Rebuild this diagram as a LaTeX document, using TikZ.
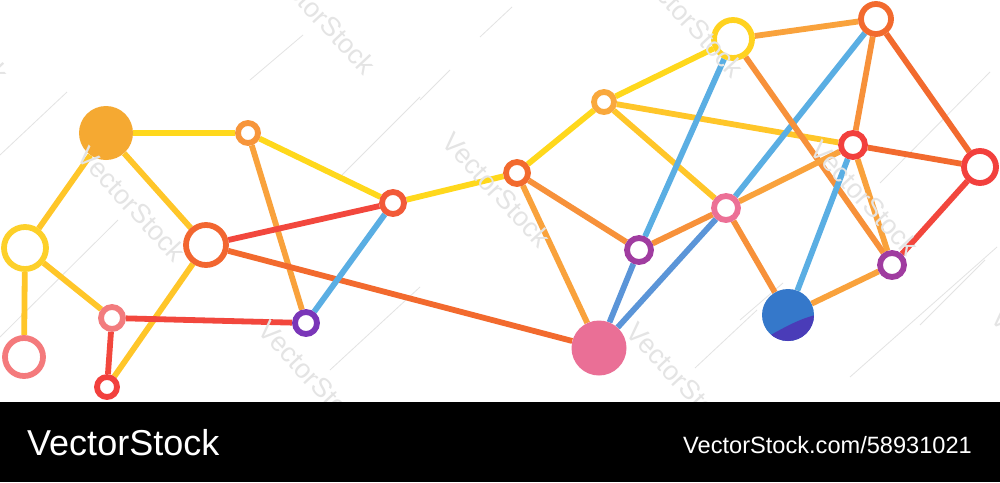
\documentclass[tikz,border=0pt]{standalone}
\usepackage{fontspec}
\newfontfamily\bandfont{Liberation Sans}
\newfontfamily\wmfont{Liberation Sans}
\usetikzlibrary{backgrounds,calc}
\pgfdeclarelayer{base}
\pgfsetlayers{base,background,main}
\definecolor{cA}{HTML}{F5A932}
\definecolor{cB}{HTML}{F7953A}
\definecolor{cC}{HTML}{F25A38}
\definecolor{cD}{HTML}{FDD02A}
\definecolor{cE}{HTML}{F26630}
\definecolor{cF}{HTML}{F27C7E}
\definecolor{cG}{HTML}{7A36B8}
\definecolor{cH}{HTML}{F47A7C}
\definecolor{cI}{HTML}{F2403D}
\definecolor{cJ}{HTML}{F26A2E}
\definecolor{cK}{HTML}{F9A83C}
\definecolor{cL}{HTML}{FFD21F}
\definecolor{cM}{HTML}{F26A2E}
\definecolor{cN}{HTML}{F2403D}
\definecolor{cO}{HTML}{F2403D}
\definecolor{cP}{HTML}{EC7096}
\definecolor{cQ}{HTML}{A03CA0}
\definecolor{cR}{HTML}{A03CA0}
\definecolor{cS}{HTML}{3578CA}
\definecolor{cS2}{HTML}{4A3CB8}
\definecolor{cT}{HTML}{EA6F96}
\definecolor{eGold}{HTML}{FFC629}
\definecolor{eYel}{HTML}{FFD81C}
\definecolor{eLor}{HTML}{F9A23C}
\definecolor{eOr}{HTML}{F7913A}
\definecolor{eRor}{HTML}{F26A2E}
\definecolor{eRed}{HTML}{F2473D}
\definecolor{eBlue}{HTML}{5AAEE3}
\definecolor{eBlue2}{HTML}{5B95D8}
\definecolor{wmgray}{HTML}{E4E4E4}
\begin{document}
\begin{tikzpicture}[x=1pt,y=-1pt,
  ring/.style={circle,draw=#1,fill=white,line width=5.8pt,inner sep=0pt},
  dot/.style={circle,fill=#1,draw=none,inner sep=0pt},
  edge/.style={draw=#1,line width=5.8pt},
  wm/.style={font={\wmfont\fontsize{27}{27}\selectfont},inner sep=0pt,rotate=-47,text=wmgray},
  faint/.style={draw=black!11,line width=0.8pt},
  bandtext/.style={anchor=base west,inner sep=0pt,text=white}]
\useasboundingbox (0,0) rectangle (1000,482);
\begin{pgfonlayer}{base}
\fill[white] (0,0) rectangle (1000,482);
% faint diagonal lines
\draw[faint] (0,155) -- (67,92);
\draw[faint] (0,337) -- (118,220);
\draw[faint] (330,370) -- (420,287);
\draw[faint] (340,177) -- (420,97);
\draw[faint] (250,80) -- (303,35);
\draw[faint] (420,100) -- (450,70);
\draw[faint] (695,368) -- (757,310);
\draw[faint] (920,325) -- (985,260);
\draw[faint] (740,320) -- (783,283);
\draw[faint] (480,37) -- (512,7);
\draw[faint] (880,183) -- (990,72);
\draw[faint] (850,377) -- (997,247);
\end{pgfonlayer}

% nodes
\node[dot=cA,minimum size=54] (A) at (106,133) {};
\node[ring=cB,minimum size=20] (B) at (248,133) {};
\node[ring=cC,minimum size=22] (C) at (393,203) {};
\node[ring=cD,minimum size=42] (D) at (25,248) {};
\node[ring=cE,minimum size=40] (E) at (206,245) {};
\node[ring=cF,minimum size=22] (F) at (112,318) {};
\node[ring=cG,minimum size=22] (G) at (306,323) {};
\node[ring=cH,minimum size=38] (H) at (24,357) {};
\node[ring=cI,minimum size=20] (I) at (107,387) {};
\node[ring=cJ,minimum size=22] (J) at (517,173) {};
\node[ring=cK,minimum size=20] (K) at (604,102) {};
\node[ring=cL,minimum size=38] (L) at (733,39) {};
\node[ring=cM,minimum size=30] (M) at (876,19) {};
\node[ring=cN,minimum size=24] (N) at (853,145) {};
\node[ring=cO,minimum size=32] (O) at (980,167) {};
\node[ring=cP,minimum size=24] (P) at (726,208) {};
\node[ring=cQ,minimum size=24] (Q) at (639,250) {};
\node[ring=cR,minimum size=24] (R) at (892,265) {};
\node[dot=cS,minimum size=52] (S) at (788,315) {};
\node[dot=cT,minimum size=55] (T) at (599,348) {};
\begin{scope}
  \clip (S.center) circle[radius=26];
  \fill[cS2] (758,342) .. controls (785,327) and (800,318) .. (820,314) -- (820,346) -- (758,346) -- cycle;
\end{scope}

% edges
\begin{scope}[on background layer]
  \draw[edge=eYel] (A) -- (B);
  \draw[edge=eGold] (A) -- (D);
  \draw[edge=eGold] (A) -- (E);
  \draw[edge=eYel] (B) -- (C);
  \draw[edge=eLor] (B) -- (G);
  \draw[edge=eGold] (D) -- (H);
  \draw[edge=eGold] (D) -- (F);
  \draw[edge=eGold] (E) -- (I);
  \draw[edge=eRed] (E) -- (C);
  \draw[edge=eRor] (E) -- (T);
  \draw[edge=eRed] (F) -- (G);
  \draw[edge=eRed] (F) -- (I);
  \draw[edge=eBlue] (G) -- (C);
  \draw[edge=eYel] (C) -- (J);
  \draw[edge=eYel] (J) -- (K);
  \draw[edge=eYel] (K) -- (L);
  \draw[edge=eLor] (L) -- (M);
  \draw[edge=eGold] (K) -- (N);
  \draw[edge=eGold] (K) -- (P);
  \draw[edge=eOr] (J) -- (Q);
  \draw[edge=eLor] (J) -- (T);
  \draw[edge=eBlue] (L) -- (Q);
  \draw[edge=eBlue2] (Q) -- (T);
  \draw[edge=eBlue] (M) -- (P);
  \draw[edge=eBlue2] (P) -- (T);
  \draw[edge=eOr] (L) -- (R);
  \draw[edge=eOr] (M) -- (N);
  \draw[edge=eRor] (M) -- (O);
  \draw[edge=eRor] (N) -- (O);
  \draw[edge=eLor] (N) -- (P);
  \draw[edge=eLor] (N) -- (R);
  \draw[edge=eBlue] (N) -- (S);
  \draw[edge=eRed] (O) -- (R);
  \draw[edge=eOr] (P) -- (Q);
  \draw[edge=eOr] (P) -- (S);
  \draw[edge=eLor] (S) -- (R);
\end{scope}

% watermarks
\node[wm] (w1) at (132,204) {VectorStock};
\node[wm] (w2) at (497,190) {VectorStock};
\node[wm] (w3) at (865,198) {VectorStock};
\node[wm] (w4) at (313,378) {VectorStock};
\node[wm] (w5) at (681,380) {VectorStock};
\node[wm] (w6) at (322,17) {VectorStock};
\node[wm] (w7) at (690,20) {VectorStock};
\node[wm] (w8) at (-45,25) {VectorStock};
\node[wm] (w9) at (1046,366) {VectorStock};

% bottom band
\fill[black] (0,402) rectangle (1000,482);
\node[bandtext,font={\bandfont\fontsize{36}{36}\selectfont}] (logo) at (27,455) {VectorStock};
\node[bandtext,font={\bandfont\fontsize{23.6}{24}\selectfont}] (url) at (683,453) {VectorStock.com/58931021};
\end{tikzpicture}
\end{document}
